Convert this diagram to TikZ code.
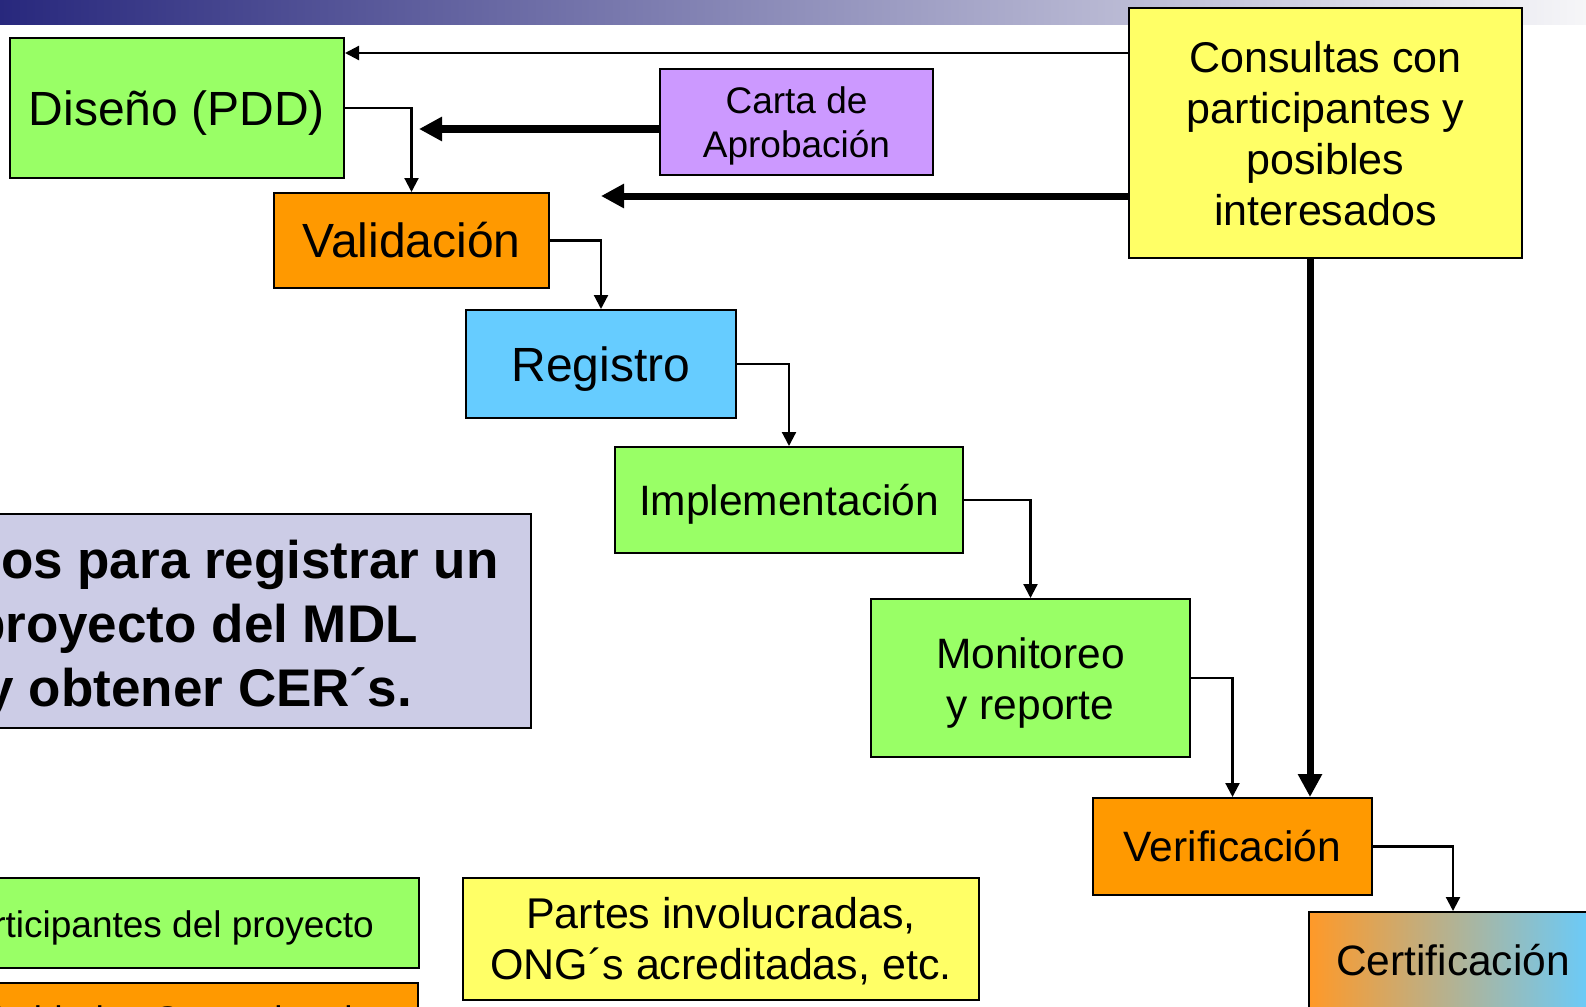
\documentclass[tikz,border=0pt]{standalone}
\usepackage{fontspec}
\setmainfont{Liberation Sans}
\usetikzlibrary{arrows.meta}
\definecolor{cgreen}{HTML}{99FF66}
\definecolor{corange}{HTML}{FF9900}
\definecolor{cblue}{HTML}{66CCFF}
\definecolor{cviolet}{HTML}{CC99FF}
\definecolor{cyellow}{HTML}{FFFF66}
\definecolor{clav}{HTML}{CCCCE6}
\definecolor{barl}{RGB}{40,40,125}
\definecolor{barm}{RGB}{160,160,190}
\definecolor{barr}{RGB}{246,246,248}
\definecolor{certl}{RGB}{255,153,40}
\definecolor{certm}{RGB}{205,175,175}
\definecolor{certr}{RGB}{102,204,255}
\begin{document}
\begin{tikzpicture}[x=1pt,y=-1pt,
  box/.style={draw=black, line width=2pt, inner sep=0pt, align=center},
  oneA/.style={text height=41pt, text depth=7pt},
  oneB/.style={text height=36.5pt, text depth=6pt},
  txt/.style={inner sep=0pt, align=center},
  conn/.style={line width=2.2pt, -{Triangle[length=14pt,width=14pt]}},
  heavy/.style={line width=7pt, -{Triangle[length=23pt,width=23pt]}},
  fA/.style={font=\fontsize{48}{57}\selectfont},
  fB/.style={font=\fontsize{42.5}{51}\selectfont},
  fC/.style={font=\fontsize{37}{44}\selectfont},
  fD/.style={font=\fontsize{53}{64}\selectfont\bfseries}]
\useasboundingbox (0,0) rectangle (1586,1006);
\clip (0,0) rectangle (1586,1006);
\fill[white] (0,0) rectangle (1586,1006);
\shade[left color=barl, middle color=barm, right color=barr] (0,0) rectangle (1586,25);

% main flow boxes
\node[box, oneA, fA, fill=cgreen, minimum width=334pt, minimum height=140pt] (dis) at (177,108) {Diseño (PDD)};
\node[box, oneA, fA, fill=corange, minimum width=275pt, minimum height=95pt] (val) at (411.5,240.5) {Validación};
\node[box, oneA, fA, fill=cblue, minimum width=270pt, minimum height=108pt] (reg) at (601,364) {Registro};
\node[box, oneB, fB, fill=cgreen, minimum width=348pt, minimum height=106pt] (imp) at (789,500) {Implementación};
\node[box, fill=cgreen, minimum width=319pt, minimum height=158pt] (mon) at (1030.5,678) {};
\node[txt, fB] (mont) at ([yshift=-5pt]mon.center) {Monitoreo\\y reporte};
\node[box, oneB, fB, fill=corange, minimum width=279pt, minimum height=97pt] (ver) at (1232.5,846.5) {Verificación};
\node[box, oneB, fB, left color=certl, middle color=certm, right color=certr, minimum width=288pt, minimum height=96pt] (cert) at (1453,960) {Certificación};
\node[box, fill=cviolet, minimum width=273pt, minimum height=106pt] (carta) at (796.5,122) {};
\node[txt, fC] (cartat) at ([yshift=-4pt]carta.center) {Carta de\\Aprobación};
\node[box, fill=cyellow, minimum width=393pt, minimum height=250pt] (cons) at (1325.5,133) {};
\node[txt, font=\fontsize{43}{51}\selectfont] (const) at ([yshift=-1pt]cons.center) {Consultas con\\participantes y\\posibles\\interesados};

% title box
\node[box, fill=clav, minimum width=536pt, minimum height=214pt] (lav) at (263,621) {};
\node[fD, anchor=base east, inner sep=0pt] (t1) at (499,578) {os para registrar un};
\node[fD, anchor=base east, inner sep=0pt] (t2) at (418,642) {proyecto del MDL};
\node[fD, anchor=base east, inner sep=0pt] (t3) at (412,706) {y obtener CER´s.};

% legend boxes
\node[box, fill=cgreen, minimum width=424pt, minimum height=90pt] (lg1) at (207,923) {};
\node[fC, anchor=base east, inner sep=0pt] (lg1t) at (374,937) {rticipantes del proyecto};
\node[box, fill=corange, minimum width=423pt, minimum height=60pt] (lg2) at (206.5,1013) {};
\node[fC, anchor=base east, inner sep=0pt] (lg2t) at (392,1032) {Entidades Operacionales};
\node[box, fill=cyellow, minimum width=516pt, minimum height=122pt] (lg3) at (721,939) {};
\node[txt, font=\fontsize{43}{51}\selectfont] (lg3t) at ([yshift=-2pt]lg3.center) {Partes involucradas,\\ONG´s acreditadas, etc.};

% connectors
\draw[conn] (dis.east) -| (val.north);
\draw[conn] (val.east) -| (reg.north);
\draw[conn] (reg.east) -| (imp.north);
\draw[conn] (imp.east) -| (mon.north);
\draw[conn] (mon.east) -| (ver.north);
\draw[conn] (ver.east) -| (cert.north);
\coordinate (ty) at (0,53);
\draw[conn] (cons.west |- ty) -- (dis.east |- ty);
\coordinate (ctip) at (419,129);
\draw[heavy] (carta.west |- ctip) -- (ctip);
\coordinate (ktip) at (601,196);
\draw[heavy] (cons.west |- ktip) -- (ktip);
\coordinate (vx) at (1310,0);
\draw[heavy] (cons.south -| vx) -- (ver.north -| vx);
\end{tikzpicture}
\end{document}
